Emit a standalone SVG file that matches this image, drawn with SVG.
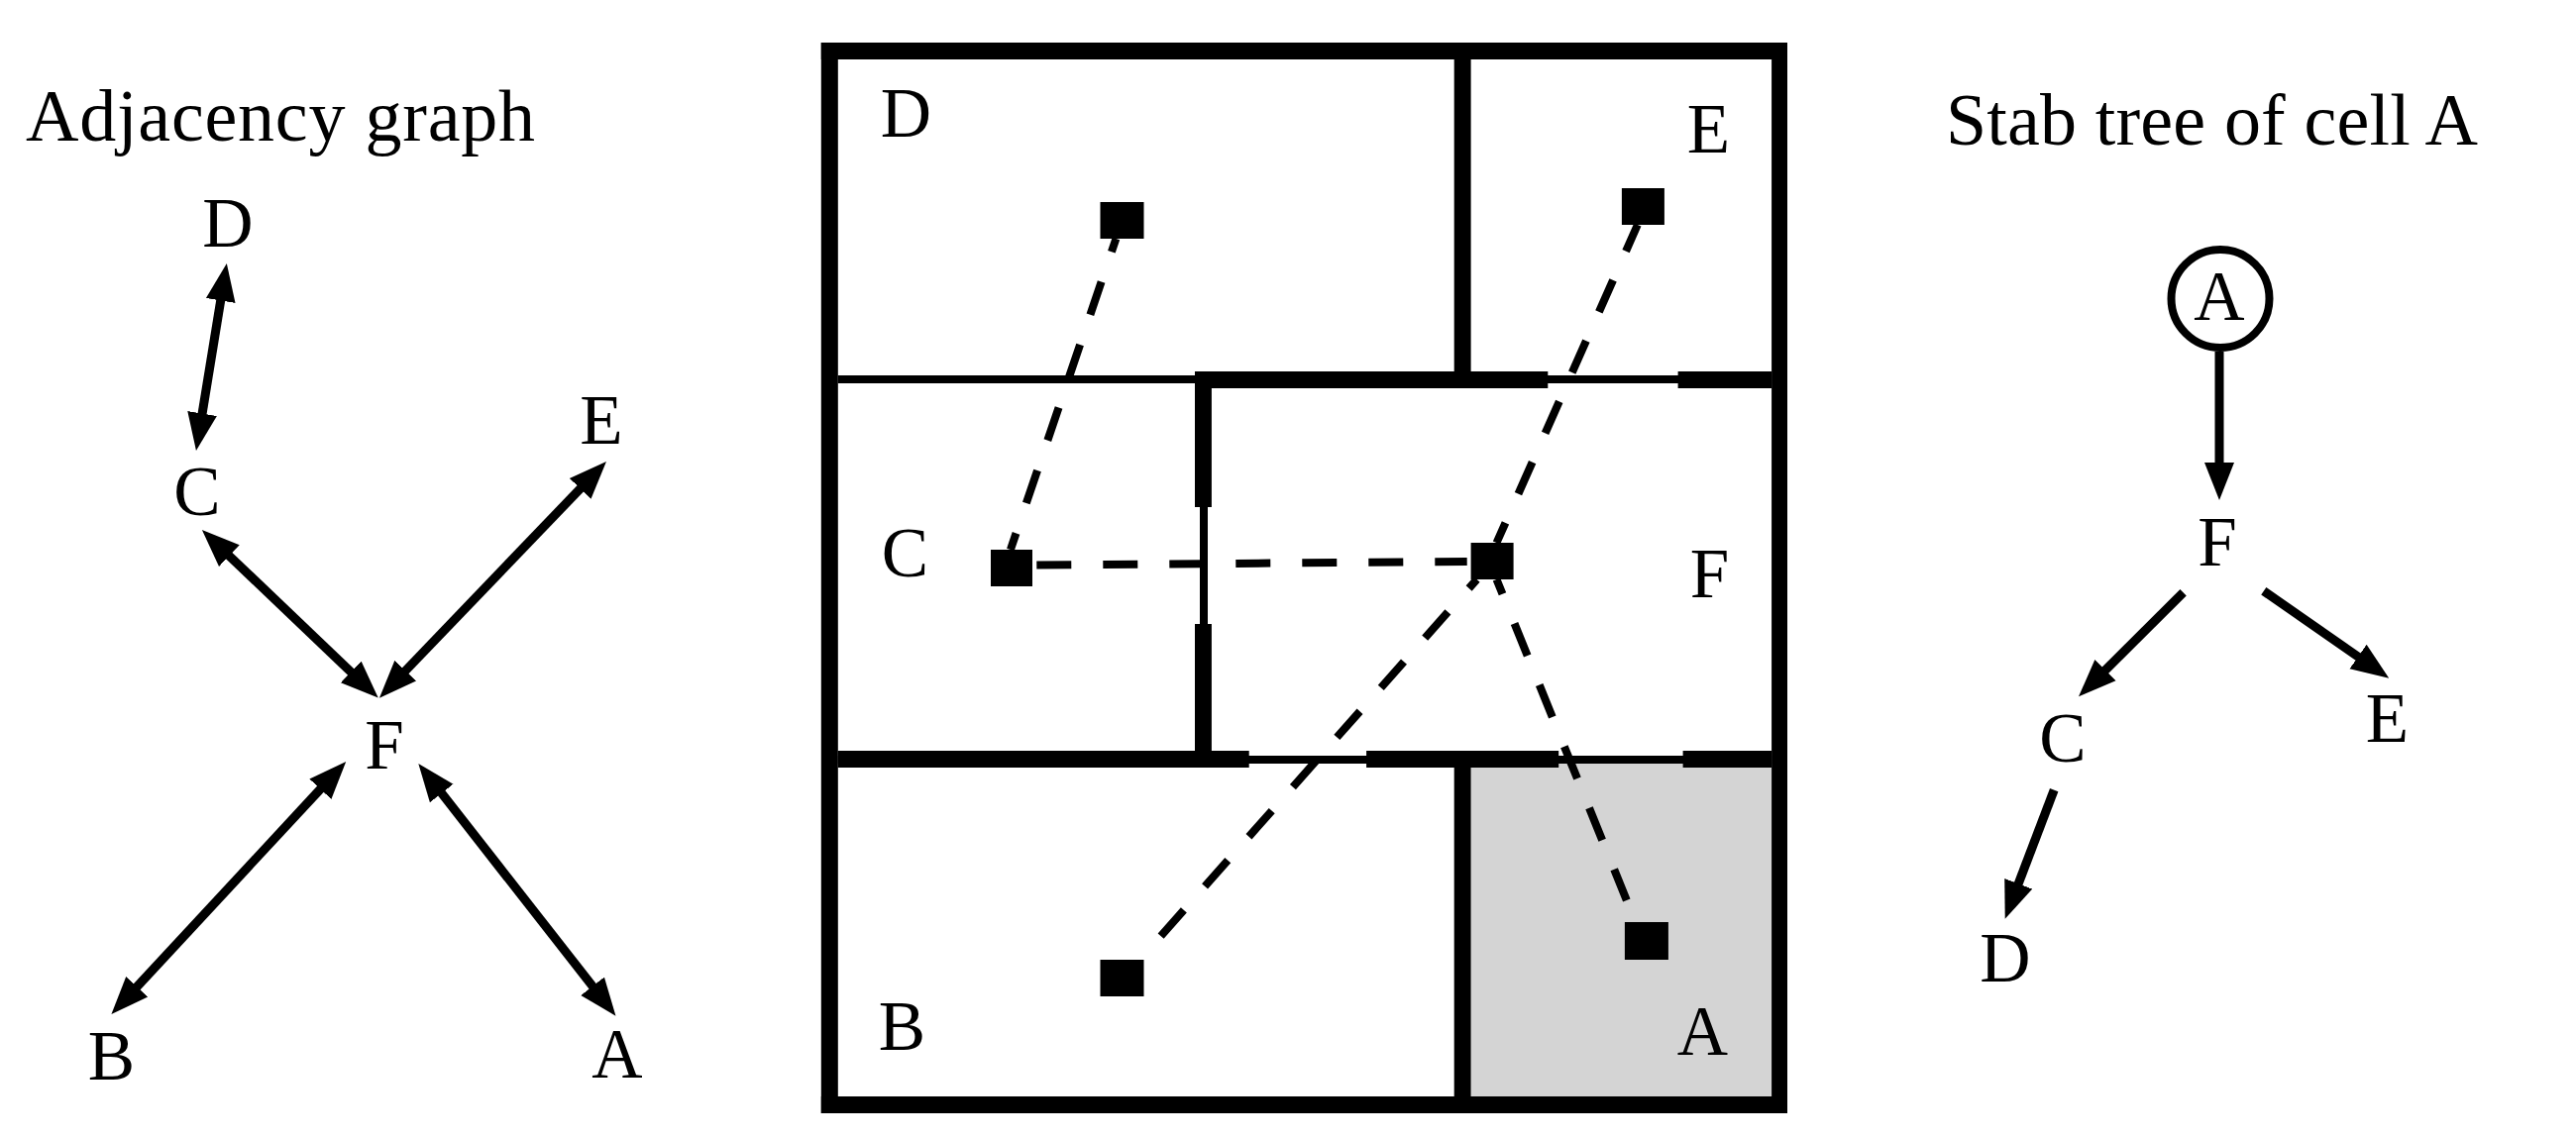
<svg xmlns="http://www.w3.org/2000/svg" width="2600" height="1150" viewBox="0 0 2600 1150">
<style>
text{font-family:"Liberation Serif","Times New Roman",serif;fill:#000}
.t{font-size:74px}
.l{font-size:71px;text-anchor:middle}
.w{fill:#000}
.e{fill:none;stroke:#000;stroke-width:9}
.d{fill:none;stroke:#000;stroke-width:8;stroke-dasharray:35 32}
</style>
<defs>
<marker id="h" markerUnits="userSpaceOnUse" markerWidth="44" markerHeight="34" refX="8" refY="17" orient="auto-start-reverse" viewBox="0 0 44 34"><path d="M0,2 L38,17 L0,32 Z" fill="#000"/></marker>
</defs>
<rect width="2600" height="1150" fill="#fff"/>
<g id="plan">
<rect id="cell-A-fill" x="1484.6" y="765" width="303.5" height="342" fill="#d4d4d4"/>
<rect class="w" x="828.8" y="43" width="975.2" height="17"/>
<rect class="w" x="828.8" y="1107" width="975.2" height="17"/>
<rect class="w" x="828.8" y="43" width="17" height="1081"/>
<rect class="w" x="1788.1" y="43" width="15.9" height="1081"/>
<rect class="w" x="1467.7" y="60" width="16.9" height="315"/>
<rect class="w" x="1467.7" y="775" width="16.9" height="332"/>
<rect class="w" x="845.8" y="379" width="942.3" height="8"/>
<rect class="w" x="1206" y="375" width="356.3" height="17"/>
<rect class="w" x="1693.6" y="375" width="94.5" height="17"/>
<rect class="w" x="1211" y="392" width="8" height="366"/>
<rect class="w" x="1206" y="392" width="16.9" height="120"/>
<rect class="w" x="1206" y="630" width="16.9" height="128"/>
<rect class="w" x="845.8" y="763" width="942.3" height="8"/>
<rect class="w" x="845.8" y="758" width="414.9" height="17"/>
<rect class="w" x="1379.1" y="758" width="194.1" height="17"/>
<rect class="w" x="1698.6" y="758" width="89.5" height="17"/>
</g>
<g id="connectors">
<path class="d" stroke-dashoffset="21" d="M1126.4,241 L1019.9,555"/>
<path class="d" stroke-dashoffset="6" d="M1652.8,227 L1510.5,548"/>
<path class="d" d="M1046.3,570.5 L1480.7,567"/>
<path class="d" stroke-dashoffset="23" d="M1490.6,585 L1151.3,968"/>
<path class="d" stroke-dashoffset="19" d="M1510.5,585 L1641.8,909"/>
<path class="e" marker-start="url(#h)" marker-end="url(#h)" d="M224,295.6 L202.8,425.4"/>
<path class="e" marker-start="url(#h)" marker-end="url(#h)" d="M225.6,555.7 L360,683.9"/>
<path class="e" marker-start="url(#h)" marker-end="url(#h)" d="M591.2,487.6 L403.7,683"/>
<path class="e" marker-start="url(#h)" marker-end="url(#h)" d="M328.8,790.9 L132.8,1002.1"/>
<path class="e" marker-start="url(#h)" marker-end="url(#h)" d="M440.8,794.6 L603,1002"/>
<path class="e" marker-end="url(#h)" d="M2240,355 L2240,475"/>
<path class="e" marker-end="url(#h)" d="M2203.6,598.3 L2119.3,682.2"/>
<path class="e" marker-end="url(#h)" d="M2284.8,596.7 L2386.6,667.6"/>
<path class="e" marker-end="url(#h)" d="M2073.2,797.7 L2034.4,899.7"/>
</g>
<g id="sites">
<rect class="w" x="1110.5" y="204" width="44" height="37"/>
<rect class="w" x="1636.9" y="190" width="43" height="37"/>
<rect class="w" x="1000" y="555" width="42" height="37"/>
<rect class="w" x="1484.6" y="548" width="43" height="37"/>
<rect class="w" x="1110.5" y="969" width="44" height="37"/>
<rect class="w" x="1639.9" y="931" width="44" height="38"/>
</g>
<g id="titles">
<text class="t" x="26" y="142" textLength="514">Adjacency graph</text>
<text class="t" x="1964" y="146" textLength="537">Stab tree of cell A</text>
</g>
<g id="graph-D"><text class="l" x="229.8" y="249">D</text></g>
<g id="graph-C"><text class="l" x="199" y="520">C</text></g>
<g id="graph-E"><text class="l" x="607" y="448">E</text></g>
<g id="graph-F"><text class="l" x="388" y="776">F</text></g>
<g id="graph-B"><text class="l" x="112.4" y="1090">B</text></g>
<g id="graph-A"><text class="l" x="623" y="1088">A</text></g>
<g id="cell-D"><text class="l" x="914.4" y="138">D</text></g>
<g id="cell-E"><text class="l" x="1724.4" y="154">E</text></g>
<g id="cell-C"><text class="l" x="913.4" y="582">C</text></g>
<g id="cell-F"><text class="l" x="1725.4" y="603">F</text></g>
<g id="cell-B"><text class="l" x="910.4" y="1060">B</text></g>
<g id="cell-A"><text class="l" x="1718.5" y="1065">A</text></g>
<g id="tree-A"><circle cx="2241" cy="301.5" r="49.5" fill="#fff" stroke="#000" stroke-width="8"/><text class="l" x="2240" y="323">A</text></g>
<g id="tree-F"><text class="l" x="2238" y="570.7">F</text></g>
<g id="tree-C"><text class="l" x="2082" y="769">C</text></g>
<g id="tree-E"><text class="l" x="2409.5" y="749">E</text></g>
<g id="tree-D"><text class="l" x="2024" y="990.7">D</text></g>
</svg>
